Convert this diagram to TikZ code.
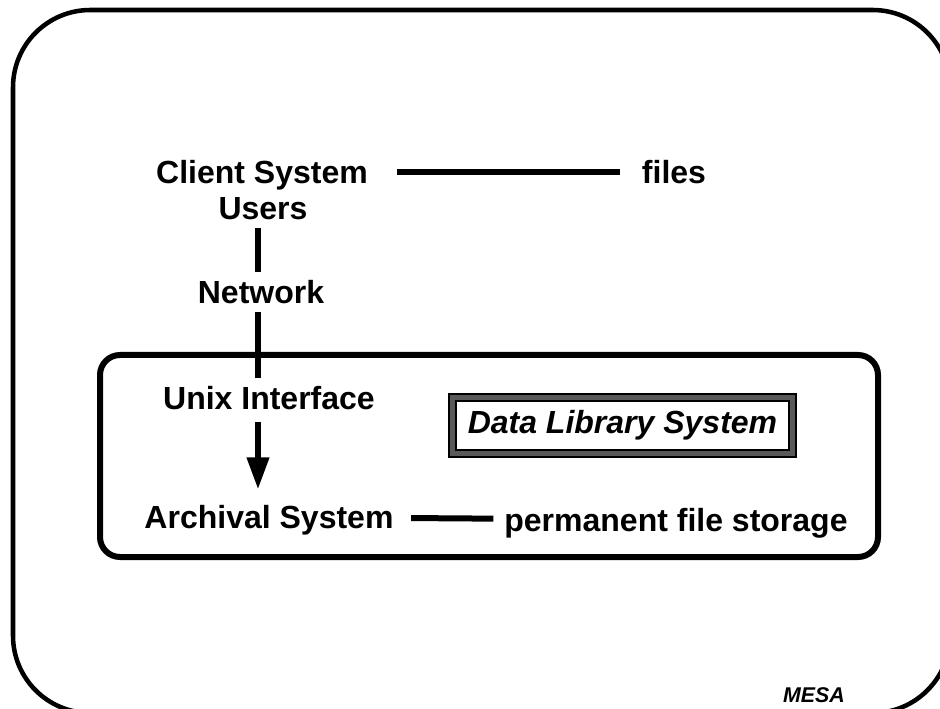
\documentclass[tikz,border=0pt]{standalone}
\usepackage{fontspec}
\setmainfont{Liberation Sans}
\usetikzlibrary{arrows.meta}

\begin{document}
\begin{tikzpicture}[
    x=0.75pt, y=-0.75pt,
    lbl/.style={font=\fontsize{24}{28}\selectfont\bfseries, inner sep=6pt, text height=17pt, text depth=0pt},
    dls/.style={font=\fontsize{24}{28}\selectfont\bfseries\itshape, draw=black, line width=1.8pt, double=black!65, double distance=3.2pt, minimum width=255pt, minimum height=42pt, inner sep=0pt},
    ln/.style={line width=4.5pt},
    arr/.style={-{Triangle[length=24pt, width=16pt]}, line width=4.5pt},
    mesa/.style={font=\fontsize{16}{18}\selectfont\bfseries\itshape, inner sep=0pt},
  ]
    \useasboundingbox (0,0) rectangle (940,709);
    \clip (0,0) rectangle (940,709);

    % Outer frame
    \draw[line width=3.4pt, rounded corners=58pt] (13,10) rectangle (950,713);

    % Client side
    \node[lbl] (client) at (262,172) {Client System};
    \node[lbl] (files) at (674,172) {files};
    \draw[ln, shorten <=16pt, shorten >=10pt] (client) -- (files);
    \node[lbl] (users) at (263,208) {Users};
    \node[lbl] (network) at (261,292) {Network};
    \draw[ln] (users.south -| 258,0) -- (network.north -| 258,0);

    % Data library
    \draw[line width=4.5pt, rounded corners=15pt] (100,355) rectangle (878,557);
    \node[lbl] (unix) at (269,398) {Unix Interface};
    \draw[ln] (network.south -| 258,0) -- (unix.north -| 258,0);
    \node[dls] (dlsys) at (622.5,425.5) {Data Library System};
    \node[lbl] (archival) at (269,517) {Archival System};
    \draw[arr, shorten <=3pt, shorten >=6pt] (unix.south -| 258,0) -- (archival.north -| 258,0);
    \node[lbl] (storage) at (676,520) {permanent file storage};
    \draw[ln, shorten <=7pt, shorten >=2pt] (archival) -- (storage);

    % Logo
    \node[mesa] (logo) at (814,695) {MESA};
\end{tikzpicture}
\end{document}
